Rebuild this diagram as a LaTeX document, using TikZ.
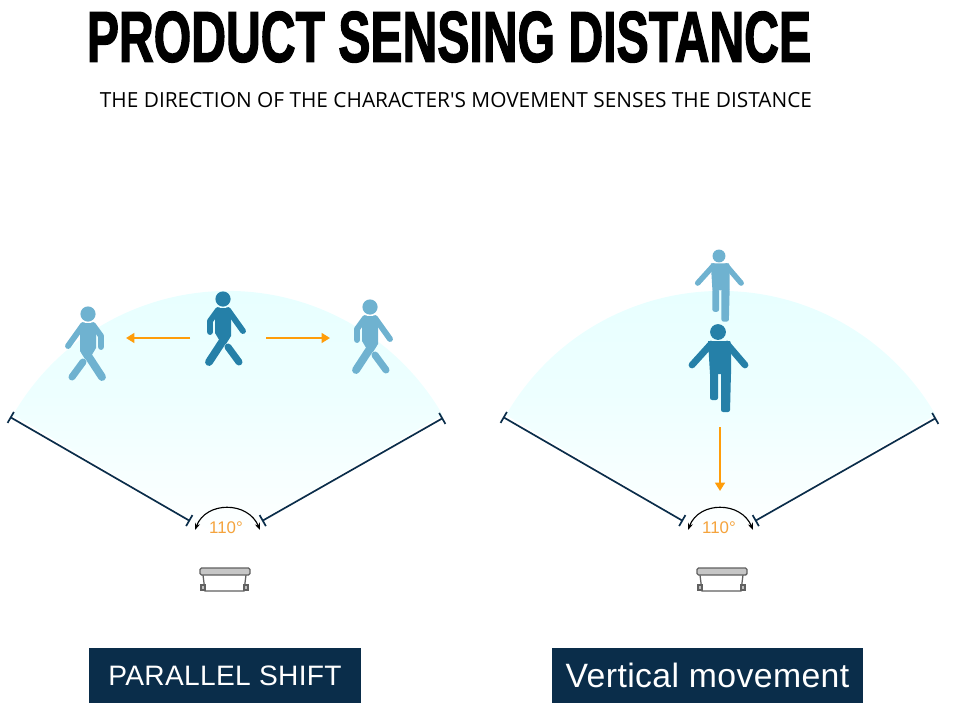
\documentclass[tikz,border=0pt]{standalone}
\usepackage{fontspec}
\usepackage{graphicx}
\setmainfont{Liberation Sans}
\newfontfamily\titlefont[FakeBold=2.2]{Liberation Sans Bold}
\newfontfamily\subtitlefont{Open Sans}
\newfontfamily\boxfont[LetterSpace=1.2]{Liberation Sans}
\usetikzlibrary{arrows.meta}
\definecolor{navybox}{HTML}{0A2D4A}
\definecolor{fancyan}{HTML}{E6FFFF}
\definecolor{darkperson}{HTML}{2580A8}
\definecolor{lightperson}{HTML}{6FB2D0}
\definecolor{moveorange}{HTML}{FF9D0A}
\definecolor{anglelabel}{HTML}{F5A33C}
\tikzset{
  x=0.025cm,y=-0.025cm,
  labelbox/.style={fill=navybox,text=white,minimum height=55*0.025cm,inner sep=0pt},
  moveline/.style={draw=moveorange,line width=1.6pt,-{Triangle[length=6pt,width=7pt]}},
  edgeline/.style={draw=navybox,line width=1.2pt,{Bar[width=9pt,length=0pt]}-{Bar[width=9pt,length=0pt]}},
  limb/.style={line cap=round,line join=round},
  % fan and angle mark of one panel
  pics/sensorzone/.style={code={
    \shade[top color=fancyan,bottom color=white,middle color=fancyan!70!white] (-213,415) arc[start angle=150,end angle=30,radius=6.2cm] -- (0,540) -- cycle;
    \coordinate (-leftfar) at (-216,417);
    \coordinate (-leftnear) at (-36,521);
    \coordinate (-rightfar) at (217,418);
    \coordinate (-rightnear) at (36,521);
    \draw[edgeline] (-leftfar)--(-leftnear);
    \draw[edgeline] (-rightfar)--(-rightnear);
    \coordinate (-arcleft) at (-31,530);
    \coordinate (-arcright) at (34,530);
    \draw[{Stealth[length=5pt]}-{Stealth[length=5pt]},line width=0.8pt] (-arcleft) .. controls (-20,501) and (22,501) .. (-arcright);
    \node[text=anglelabel,font=\fontsize{12}{12}\selectfont,inner sep=0pt] (-angle) at (0,528) {110°};
  }},
  % the sensor, origin at the middle of its top bar
  pics/sensorbox/.style={code={
    \draw[gray!75!black,line width=0.9pt,fill=white] (-22,575) -- (-20,591) -- (19,591) -- (21,575);
    \draw[gray!75!black,line width=0.9pt,fill=gray!45,rounded corners=1pt] (-25,568) rectangle (25,575);
    \draw[gray!75!black,line width=0.9pt,fill=gray!50] (-24,585) rectangle (-20,590);
    \draw[gray!75!black,line width=0.9pt,fill=gray!50] (19,585) rectangle (23,590);
  }},
  % side-on walking person, origin at the head
  pics/walker/.style={code={
    \fill (0,0) circle[radius=7.6];
    \fill (-8,11) -- (-4,9) -- (5,9) -- (8,11) -- (8,37) -- (3,45) -- (-2,44) -- (-8,34) -- cycle;
    \draw[limb,line width=4.2pt] (-5,11) -- (-13,22) -- (-13,33);
    \draw[limb,line width=4.2pt] (5,11) -- (20,32);
    \draw[limb,line width=5.6pt] (3,37) -- (-14,63);
    \draw[limb,line width=5pt] (5,48) -- (16,63);
  }},
  % person seen from the front, origin at the head, #1 scale, #2 limb width
  pics/stander/.style 2 args={code={
    \begin{scope}[scale=#1]
    \fill (0,0) circle[radius=7.9];
    \fill (-10,9) -- (12,9) -- (13,12) -- (13,42) -- (-8,42) -- cycle;
    \draw[limb,line width=#2] (-7,12) -- (-26,33);
    \draw[limb,line width=#2] (9,12) -- (27,33);
    \fill[rounded corners=1.5pt] (-8,40) -- (0,40) -- (0,68) -- (-8,68) -- cycle;
    \fill[rounded corners=1.5pt] (3,40) -- (13,40) -- (12,80) -- (3,80) -- cycle;
    \end{scope}
  }},
}
\begin{document}
\begin{tikzpicture}
\useasboundingbox (0,0) rectangle (960,723);

\node[inner sep=0pt] (title) at (449,37) {\resizebox{515pt}{35.6pt}{\titlefont PRODUCT SENSING DISTANCE}};
\node[inner sep=0pt,font=\subtitlefont\fontsize{14.82}{14.82}\selectfont] (subtitle) at (456,100) {THE DIRECTION OF THE CHARACTER'S MOVEMENT SENSES THE DISTANCE};

\pic (zoneA) at (226,0) {sensorzone};
\pic (zoneB) at (719,0) {sensorzone};
\pic (sensorA) at (225,0) {sensorbox};
\pic (sensorB) at (722,0) {sensorbox};

% parallel shift
\pic[lightperson,xscale=-1] (personleft) at (88,314) {walker};
\pic[darkperson] (personmid) at (223,299) {walker};
\pic[lightperson] (personright) at (370,307) {walker};
\coordinate (leftstart) at (190,338);
\coordinate (leftend) at (126,338);
\coordinate (rightstart) at (266,338);
\coordinate (rightend) at (330,338);
\draw[moveline] (leftstart)--(leftend);
\draw[moveline] (rightstart)--(rightend);

% vertical movement
\pic[lightperson] (personfar) at (719,256) {stander={0.82}{3.9pt}};
\pic[darkperson] (personnear) at (718,332) {stander={1}{4.8pt}};
\coordinate (downstart) at (720,427);
\coordinate (downend) at (720,491);
\draw[moveline] (downstart)--(downend);

\node[labelbox,minimum width=272*0.025cm,font=\boxfont\fontsize{20}{20}\selectfont] (shiftlabel) at (225,675.5) {PARALLEL SHIFT};
\node[labelbox,minimum width=311*0.025cm,font=\boxfont\fontsize{24}{24}\selectfont] (verticallabel) at (707.5,675.5) {Vertical movement};
\end{tikzpicture}
\end{document}
